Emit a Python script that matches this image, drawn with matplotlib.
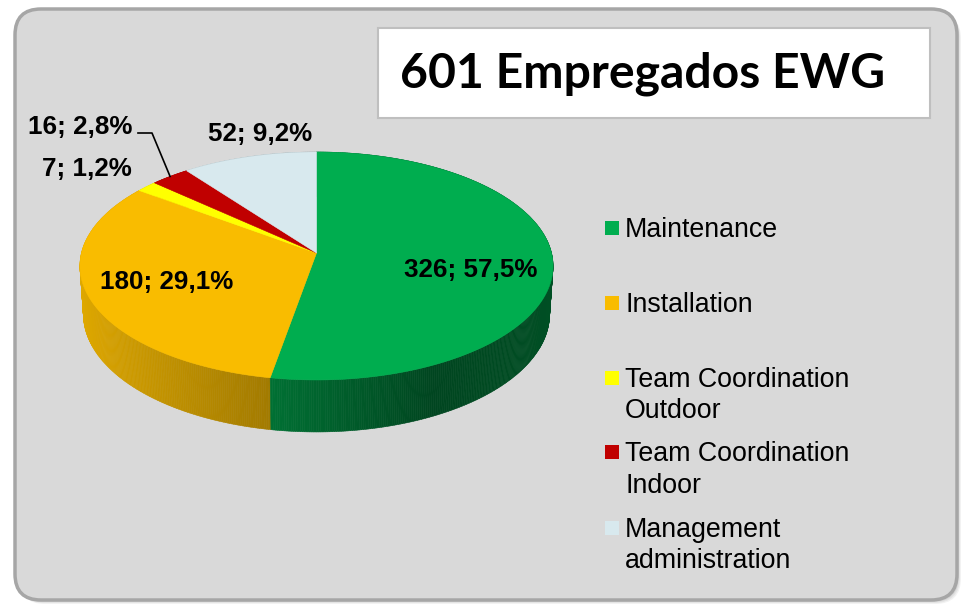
import numpy as np
import matplotlib
matplotlib.use('Agg')
import matplotlib.pyplot as plt
from matplotlib.patches import FancyBboxPatch, Polygon, Rectangle
from matplotlib.collections import PolyCollection
from matplotlib.colors import to_rgb

# data
categories = ['Maintenance', 'Installation', 'Team Coordination\nOutdoor',
              'Team Coordination\nIndoor', 'Management\nadministration']
counts = [326, 180, 7, 16, 52]
pct_labels = ['57,5', '29,1', '1,2', '2,8', '9,2']
# slice shares as drawn in the picture (%)
shares = [52.8, 32.3, 1.6, 3.0, 10.3]
colors = ['#00ad4f', '#f9bc00', '#ffff00', '#c00000', '#d8e9ee']
title = '601 Empregados EWG'

fig = plt.figure(figsize=(9.64, 6.05), dpi=100)
fig.patch.set_facecolor('white')
ax = fig.add_axes([0, 0, 1, 1])
ax.set_xlim(0, 964)
ax.set_ylim(605, 0)
ax.axis('off')

# panel with shadow
for i, a in enumerate([0.10, 0.12, 0.15]):
    off = 4 - i
    ax.add_patch(FancyBboxPatch((15 + off, 9 + off), 942, 591, boxstyle='round,pad=0,rounding_size=26',
                                fc='#808080', ec='none', alpha=a, zorder=0))
ax.add_patch(FancyBboxPatch((15, 9), 942, 591, boxstyle='round,pad=0,rounding_size=26',
                            fc='#d9d9d9', ec='#a6a6a6', lw=2.5, zorder=1))

# title box
ax.add_patch(Rectangle((378, 28), 552, 90, fc='white', ec='#bfbfbf', lw=1.5, zorder=2))
ax.text(400, 88, title, fontsize=34.7, fontweight='bold', family='Lato',
        va='baseline', ha='left', zorder=3)

# perspective 3d pie
cx, cy0, k, D = 316.5, 253.0, 1812.0, 7.71
phi = np.radians(28.6)
s, c = np.sin(phi), np.cos(phi)
h = 0.236


def proj(t_deg, z=0.0):
    t = np.radians(t_deg)
    X, Y = np.sin(t), np.cos(t)
    w = D + Y * c - z * s
    return cx + k * X / w, cy0 - k * (Y * s + z * c) / w


def shade(t_deg):
    X = np.sin(np.radians(t_deg))
    return np.interp(X, [-1, -0.2, 0.45, 1], [0.9, 0.66, 0.4, 0.46])


bounds = np.concatenate([[0], np.cumsum(shares) / sum(shares) * 360])

# side walls
quads, qcols, depth = [], [], []
for i in range(len(shares)):
    t0, t1 = bounds[i], bounds[i + 1]
    ts = np.linspace(t0, t1, max(2, int((t1 - t0) / 0.5) + 1))
    base = np.array(to_rgb(colors[i]))
    for a, b in zip(ts[:-1], ts[1:]):
        xa, ya = proj(a)
        xb, yb = proj(b)
        xa2, ya2 = proj(a, -h)
        xb2, yb2 = proj(b, -h)
        quads.append([(xa, ya), (xb, yb), (xb2, yb2), (xa2, ya2)])
        qcols.append(np.clip(base * shade((a + b) / 2), 0, 1))
        depth.append(np.cos(np.radians((a + b) / 2)))
order = np.argsort(depth)[::-1]
pc = PolyCollection([quads[j] for j in order], facecolors=[qcols[j] for j in order],
                    edgecolors=[qcols[j] for j in order], linewidths=0.4, zorder=4)
ax.add_collection(pc)

# top face
apex = (cx, cy0)
for i in range(len(shares)):
    ts = np.linspace(bounds[i], bounds[i + 1], 200)
    xs, ys = proj(ts)
    pts = [apex] + list(zip(xs, ys))
    ax.add_patch(Polygon(pts, closed=True, fc=colors[i], ec=colors[i], lw=0.4, zorder=5))

# data labels
lab_font = dict(fontsize=18.7, fontweight='bold', family='Liberation Sans', zorder=7)
lab_pos = [(471, 268), (167, 280), (87, 167), (80, 125), (260, 132)]
for i, (x, y) in enumerate(lab_pos):
    ax.text(x, y + 9, f'{counts[i]}; {pct_labels[i]}%', ha='center', va='baseline', **lab_font)

# leader line for the small red slice
mid = (bounds[3] + bounds[4]) / 2
ex, ey = proj(mid)
ax.plot([138, 152, ex], [133, 133, ey], color='black', lw=1.2, zorder=6)

# legend
leg_y = [228, 302.5, 377.5, 452, 527.5]
for i, lab in enumerate(categories):
    ax.add_patch(Rectangle((605, leg_y[i] - 7), 14, 14, fc=colors[i], ec='none', zorder=6))
    for j, line in enumerate(lab.split('\n')):
        ax.text(625, leg_y[i] + 9.3 + j * 31.5, line, fontsize=19.3, family='Liberation Sans',
                va='baseline', ha='left', zorder=6)

fig.savefig('out.png', dpi=100)
